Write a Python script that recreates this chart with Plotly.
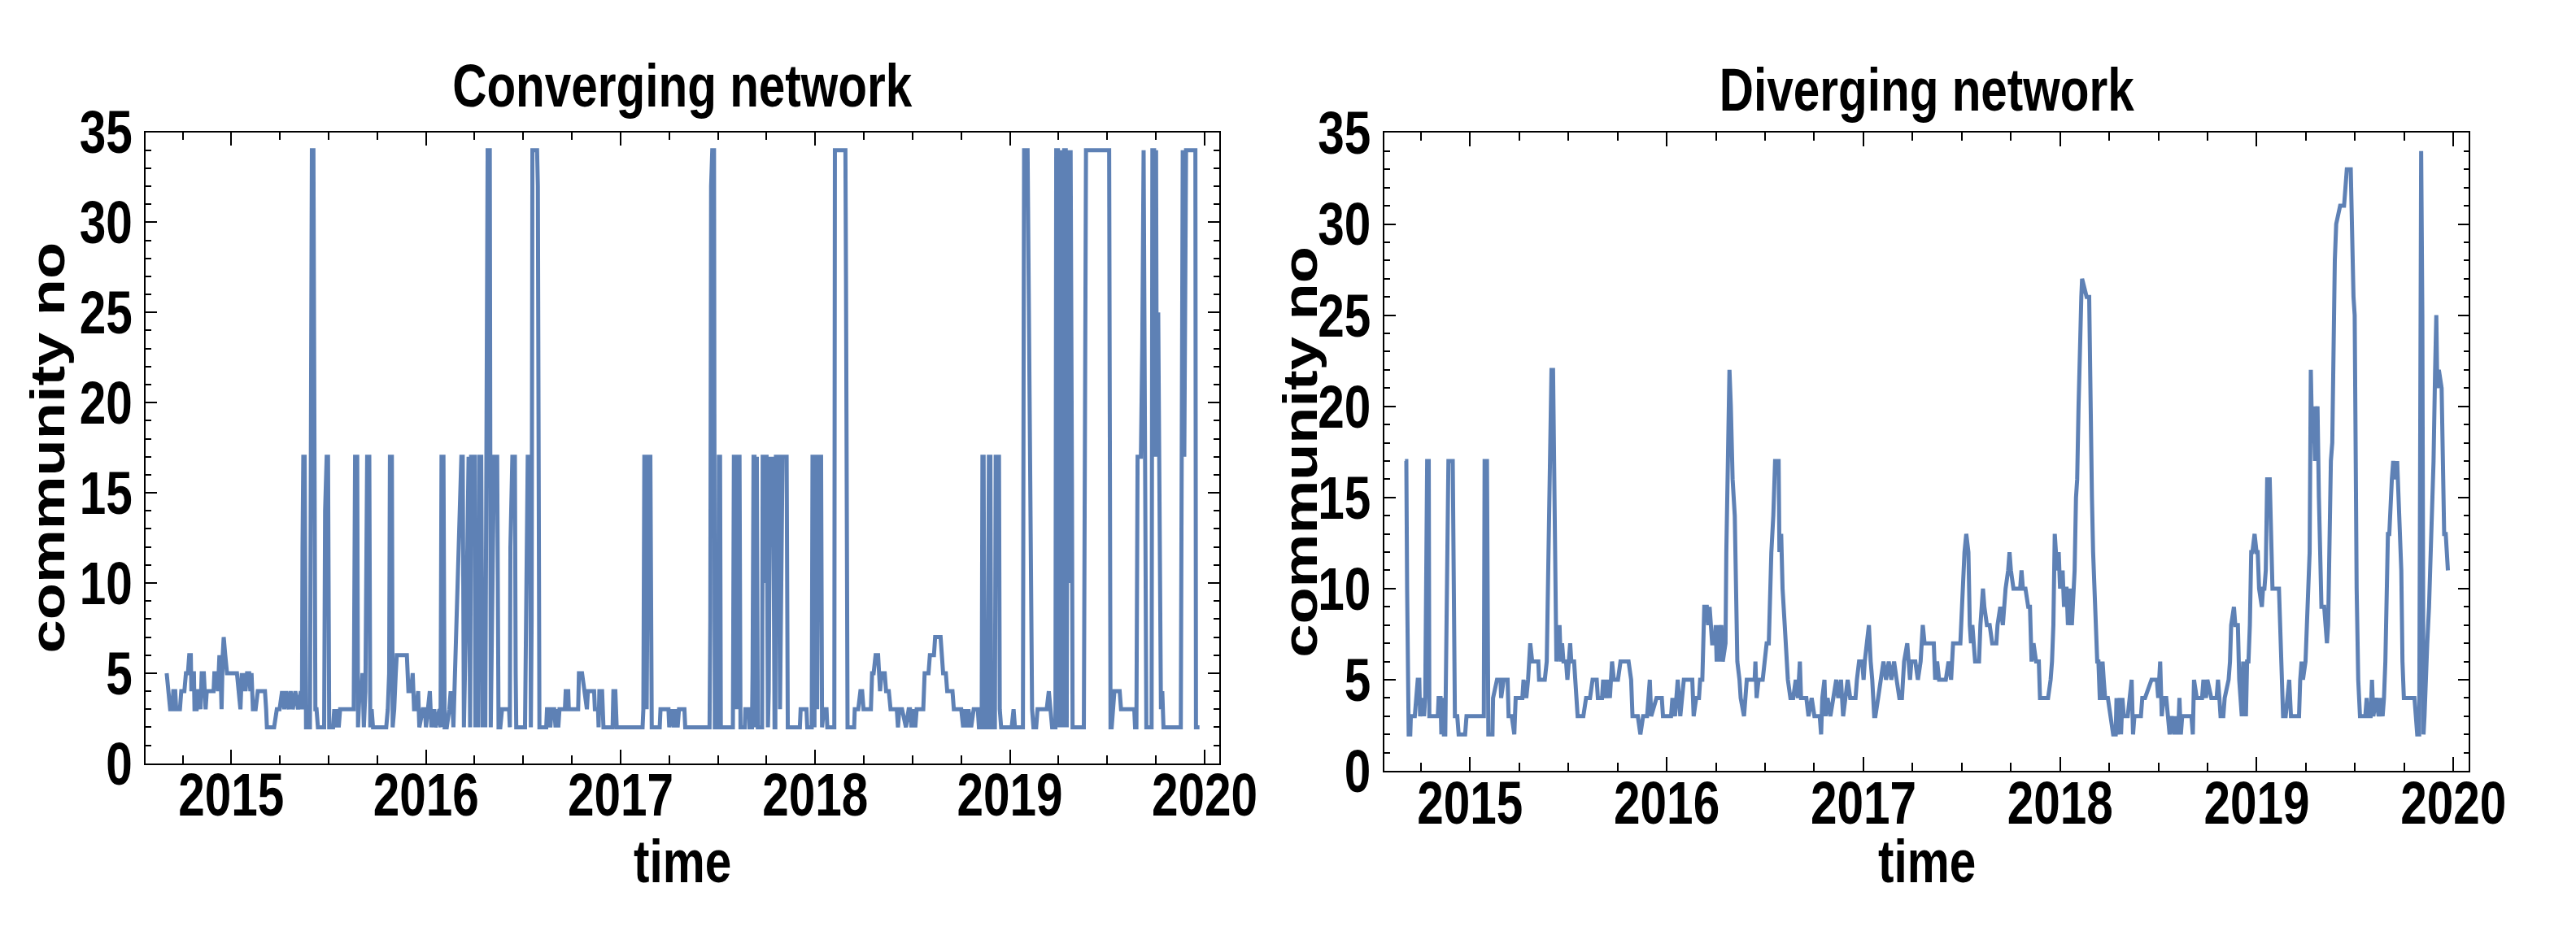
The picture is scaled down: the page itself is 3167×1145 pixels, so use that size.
import plotly.graph_objects as go

# ---------------- data (time in decimal years, community number) ----------------
converging = [
    (2014.668,5),(2014.677,4),(2014.686,3),(2014.697,3),(2014.702,4),(2014.712,4),(2014.717,3),(2014.736,3),
    (2014.743,4),(2014.759,4),(2014.767,5),(2014.777,5),(2014.784,6),(2014.792,6),(2014.795,4),(2014.802,5),
    (2014.808,5),(2014.811,3),(2014.822,3),(2014.829,4),(2014.838,4),(2014.842,3),(2014.848,5),(2014.859,5),
    (2014.863,4),(2014.868,3),(2014.874,4),(2014.886,4),(2014.909,4),(2014.913,5),(2014.927,5),(2014.931,4),
    (2014.939,6),(2014.945,5),(2014.950,3),(2014.956,6),(2014.961,7),(2014.969,6),(2014.978,5),(2015.029,5),
    (2015.040,4),(2015.047,3),(2015.054,5),(2015.059,4),(2015.068,5),(2015.073,4),(2015.081,5),(2015.092,5),
    (2015.098,4),(2015.104,5),(2015.111,3),(2015.125,3),(2015.136,4),(2015.152,4),(2015.173,4),(2015.179,3),
    (2015.183,2),(2015.207,2),(2015.220,2),(2015.234,3),(2015.248,3),(2015.261,4),(2015.272,3),(2015.282,4),
    (2015.295,3),(2015.305,4),(2015.316,3),(2015.329,4),(2015.343,3),(2015.357,4),(2015.363,3),(2015.366,12),
    (2015.370,17),(2015.377,17),(2015.381,4),(2015.384,2),(2015.404,2),(2015.408,17),(2015.414,34),(2015.422,34),
    (2015.426,12),(2015.432,3),(2015.438,3),(2015.445,2),(2015.477,2),(2015.482,14),(2015.490,17),(2015.497,17),
    (2015.503,2),(2015.523,2),(2015.529,3),(2015.537,2),(2015.545,3),(2015.552,2),(2015.559,3),(2015.568,3),
    (2015.629,3),(2015.636,17),(2015.647,17),(2015.651,2),(2015.659,4),(2015.668,4),(2015.674,5),(2015.681,2),
    (2015.689,4),(2015.698,17),(2015.709,17),(2015.714,2),(2015.721,3),(2015.728,2),(2015.796,2),(2015.804,3),
    (2015.811,5),(2015.815,17),(2015.825,17),(2015.829,2),(2015.837,3),(2015.845,5),(2015.850,6),(2015.902,6),
    (2015.905,5),(2015.910,4),(2015.923,4),(2015.932,5),(2015.939,3),(2015.950,3),(2015.960,4),(2015.966,2),
    (2015.984,3),(2015.995,3),(2016.000,2),(2016.020,4),(2016.028,2),(2016.043,3),(2016.050,2),(2016.069,3),
    (2016.075,2),(2016.080,17),(2016.090,17),(2016.096,2),(2016.107,2),(2016.120,3),(2016.127,4),(2016.137,3),
    (2016.141,2),(2016.182,17),(2016.189,17),(2016.195,2),(2016.213,12),(2016.219,17),(2016.227,2),(2016.232,17),
    (2016.250,17),(2016.254,2),(2016.264,10),(2016.268,2),(2016.273,17),(2016.284,17),(2016.291,2),(2016.300,10),
    (2016.305,2),(2016.311,17),(2016.317,34),(2016.328,34),(2016.333,2),(2016.350,17),(2016.366,17),(2016.373,2),
    (2016.382,2),(2016.391,3),(2016.427,3),(2016.431,2),(2016.434,12),(2016.444,17),(2016.457,17),(2016.461,5),
    (2016.464,2),(2016.509,2),(2016.516,12),(2016.523,17),(2016.536,17),(2016.539,2),(2016.543,8),(2016.547,34),
    (2016.571,34),(2016.575,32),(2016.579,17),(2016.583,2),(2016.618,2),(2016.622,3),(2016.632,3),(2016.639,2),
    (2016.646,3),(2016.659,3),(2016.666,2),(2016.673,3),(2016.680,2),(2016.686,3),(2016.714,3),(2016.718,4),
    (2016.731,4),(2016.734,3),(2016.782,3),(2016.786,5),(2016.802,5),(2016.816,4),(2016.827,3),(2016.832,4),
    (2016.864,4),(2016.868,3),(2016.884,3),(2016.887,2),(2016.891,4),(2016.905,4),(2016.912,2),(2016.959,2),
    (2016.963,4),(2016.973,4),(2016.980,2),(2017.113,2),(2017.117,3),(2017.122,17),(2017.130,17),(2017.134,3),
    (2017.142,17),(2017.153,17),(2017.157,3),(2017.160,2),(2017.201,2),(2017.205,3),(2017.246,3),(2017.250,2),
    (2017.259,3),(2017.273,2),(2017.280,3),(2017.293,2),(2017.300,3),(2017.328,3),(2017.332,2),(2017.457,2),
    (2017.461,8),(2017.465,32),(2017.471,34),(2017.480,34),(2017.484,2),(2017.501,2),(2017.505,17),(2017.511,17),
    (2017.515,2),(2017.577,2),(2017.582,17),(2017.590,17),(2017.595,3),(2017.600,17),(2017.611,17),(2017.616,2),
    (2017.638,2),(2017.641,3),(2017.659,3),(2017.662,2),(2017.675,2),(2017.678,5),(2017.683,17),(2017.688,17),
    (2017.692,2),(2017.696,17),(2017.700,17),(2017.705,2),(2017.727,2),(2017.730,17),(2017.737,17),(2017.740,10),
    (2017.744,17),(2017.750,17),(2017.754,3),(2017.757,2),(2017.761,4),(2017.768,17),(2017.775,12),(2017.779,17),
    (2017.784,17),(2017.791,2),(2017.795,2),(2017.798,17),(2017.812,17),(2017.819,3),(2017.825,9),(2017.832,17),
    (2017.853,17),(2017.859,2),(2017.921,2),(2017.925,3),(2017.955,3),(2017.959,2),(2017.982,2),(2017.986,17),
    (2017.992,17),(2017.996,2),(2018.000,17),(2018.006,17),(2018.010,3),(2018.016,17),(2018.030,17),(2018.035,2),
    (2018.044,3),(2018.058,3),(2018.062,2),(2018.098,2),(2018.101,34),(2018.155,34),(2018.158,27),(2018.164,10),
    (2018.166,2),(2018.200,2),(2018.203,3),(2018.221,3),(2018.232,4),(2018.241,4),(2018.248,3),(2018.286,3),
    (2018.292,5),(2018.300,5),(2018.310,6),(2018.323,6),(2018.327,5),(2018.333,4),(2018.341,5),(2018.357,5),
    (2018.364,4),(2018.378,4),(2018.387,3),(2018.419,3),(2018.425,2),(2018.432,3),(2018.446,3),(2018.466,2),
    (2018.480,3),(2018.487,3),(2018.494,2),(2018.507,3),(2018.514,2),(2018.521,3),(2018.555,3),(2018.562,5),
    (2018.582,5),(2018.589,6),(2018.610,6),(2018.616,7),(2018.644,7),(2018.651,6),(2018.657,5),(2018.671,5),
    (2018.678,4),(2018.705,4),(2018.712,3),(2018.750,3),(2018.760,2),(2018.771,3),(2018.780,2),(2018.787,3),
    (2018.801,2),(2018.814,3),(2018.835,3),(2018.841,2),(2018.855,2),(2018.859,17),(2018.865,17),(2018.869,2),
    (2018.886,2),(2018.892,17),(2018.900,17),(2018.904,2),(2018.923,2),(2018.927,17),(2018.944,17),(2018.948,3),
    (2018.955,2),(2019.009,2),(2019.019,3),(2019.026,2),(2019.067,2),(2019.071,25),(2019.073,34),(2019.091,34),
    (2019.097,25),(2019.101,17),(2019.107,10),(2019.114,3),(2019.121,2),(2019.135,2),(2019.142,3),(2019.189,3),
    (2019.200,4),(2019.210,3),(2019.217,2),(2019.234,2),(2019.238,34),(2019.247,34),(2019.251,10),(2019.255,2),
    (2019.260,34),(2019.267,2),(2019.271,34),(2019.275,2),(2019.279,34),(2019.287,34),(2019.292,2),(2019.298,34),
    (2019.305,10),(2019.312,34),(2019.319,15),(2019.322,2),(2019.380,2),(2019.387,26),(2019.391,34),(2019.510,34),
    (2019.514,17),(2019.517,2),(2019.523,2),(2019.528,3),(2019.537,4),(2019.564,4),(2019.571,3),(2019.639,3),
    (2019.643,2),(2019.650,2),(2019.656,17),(2019.673,17),(2019.680,23),(2019.687,34),(2019.694,22),(2019.698,10),
    (2019.701,2),(2019.728,2),(2019.732,34),(2019.741,34),(2019.745,17),(2019.751,34),(2019.755,17),(2019.762,25),
    (2019.769,8),(2019.776,3),(2019.783,4),(2019.789,2),(2019.878,2),(2019.882,22),(2019.888,34),(2019.896,17),
    (2019.905,34),(2019.953,34),(2019.956,2),(2019.974,2),
]

diverging = [
    (2014.669,17),(2014.676,17),(2014.680,10),(2014.685,5),(2014.688,2),(2014.696,2),(2014.699,3),(2014.719,3),
    (2014.726,4),(2014.734,5),(2014.742,5),(2014.746,3),(2014.759,4),(2014.766,3),(2014.772,4),(2014.777,13),
    (2014.782,17),(2014.790,17),(2014.793,3),(2014.836,3),(2014.840,4),(2014.850,4),(2014.854,2),(2014.861,4),
    (2014.867,2),(2014.874,2),(2014.882,8),(2014.890,17),(2014.912,17),(2014.917,10),(2014.923,3),(2014.935,3),
    (2014.942,2),(2014.975,2),(2014.982,3),(2015.070,3),(2015.074,17),(2015.086,17),(2015.093,2),(2015.114,2),
    (2015.117,4),(2015.137,5),(2015.155,5),(2015.158,4),(2015.171,5),(2015.191,5),(2015.196,3),(2015.212,3),
    (2015.225,2),(2015.232,4),(2015.239,4),(2015.266,4),(2015.272,5),(2015.286,4),(2015.295,5),(2015.306,7),
    (2015.316,6),(2015.347,6),(2015.351,5),(2015.380,5),(2015.390,6),(2015.401,14),(2015.407,18),(2015.414,22),
    (2015.422,22),(2015.428,14),(2015.434,10),(2015.439,6),(2015.455,8),(2015.461,6),(2015.468,7),(2015.475,6),
    (2015.488,6),(2015.495,5),(2015.509,7),(2015.515,6),(2015.529,6),(2015.536,5),(2015.547,3),(2015.576,3),
    (2015.590,4),(2015.610,4),(2015.623,5),(2015.644,5),(2015.650,4),(2015.671,4),(2015.677,5),(2015.691,4),
    (2015.698,5),(2015.711,4),(2015.722,6),(2015.731,5),(2015.752,5),(2015.765,6),(2015.806,6),(2015.819,5),
    (2015.826,3),(2015.853,3),(2015.866,2),(2015.880,3),(2015.900,3),(2015.914,5),(2015.921,3),(2015.948,4),
    (2015.975,4),(2015.981,3),(2016.022,3),(2016.029,4),(2016.042,3),(2016.056,5),(2016.069,3),(2016.087,5),
    (2016.130,5),(2016.137,3),(2016.150,4),(2016.164,4),(2016.170,5),(2016.181,5),(2016.191,9),(2016.204,9),
    (2016.211,8),(2016.218,9),(2016.227,8),(2016.231,7),(2016.245,7),(2016.249,8),(2016.254,6),(2016.258,8),
    (2016.265,6),(2016.278,8),(2016.285,6),(2016.299,7),(2016.303,12),(2016.312,17),(2016.319,22),(2016.326,20),
    (2016.330,18),(2016.335,16),(2016.346,14),(2016.353,10),(2016.359,6),(2016.370,5),(2016.376,4),(2016.393,3),
    (2016.407,5),(2016.447,5),(2016.451,6),(2016.457,4),(2016.467,5),(2016.488,5),(2016.497,6),(2016.508,7),
    (2016.519,7),(2016.524,9),(2016.532,12),(2016.542,14),(2016.551,17),(2016.569,17),(2016.573,12),(2016.582,13),
    (2016.589,10),(2016.600,8),(2016.609,6),(2016.616,5),(2016.629,4),(2016.643,4),(2016.656,5),(2016.667,4),
    (2016.677,6),(2016.683,4),(2016.710,4),(2016.721,3),(2016.737,4),(2016.751,3),(2016.778,3),(2016.785,2),
    (2016.791,4),(2016.802,5),(2016.808,3),(2016.818,4),(2016.832,3),(2016.845,4),(2016.862,5),(2016.872,4),
    (2016.886,5),(2016.897,3),(2016.906,4),(2016.920,5),(2016.933,4),(2016.960,4),(2016.967,5),(2016.978,6),
    (2016.994,6),(2017.001,5),(2017.007,6),(2017.018,7),(2017.028,8),(2017.037,6),(2017.045,5),(2017.055,3),
    (2017.061,3),(2017.075,4),(2017.088,5),(2017.102,6),(2017.115,5),(2017.129,6),(2017.142,5),(2017.156,6),
    (2017.169,5),(2017.183,4),(2017.196,4),(2017.207,6),(2017.223,7),(2017.237,5),(2017.244,6),(2017.264,6),
    (2017.277,5),(2017.291,6),(2017.302,8),(2017.311,7),(2017.358,7),(2017.365,5),(2017.375,6),(2017.385,5),
    (2017.419,5),(2017.433,6),(2017.446,5),(2017.456,7),(2017.493,7),(2017.500,9),(2017.507,10),(2017.514,12),
    (2017.523,13),(2017.534,12),(2017.541,8),(2017.547,7),(2017.554,8),(2017.561,7),(2017.568,6),(2017.588,6),
    (2017.595,8),(2017.608,10),(2017.615,9),(2017.628,8),(2017.642,8),(2017.655,7),(2017.676,7),(2017.682,8),
    (2017.696,9),(2017.709,8),(2017.716,9),(2017.723,10),(2017.736,11),(2017.743,12),(2017.750,11),(2017.763,10),
    (2017.797,10),(2017.804,11),(2017.811,10),(2017.824,10),(2017.838,9),(2017.847,9),(2017.855,6),(2017.865,7),
    (2017.878,6),(2017.892,6),(2017.898,4),(2017.939,4),(2017.952,5),(2017.959,6),(2017.966,8),(2017.973,13),
    (2017.979,12),(2017.986,11),(2017.993,12),(2018.000,10),(2018.013,11),(2018.020,9),(2018.027,10),(2018.033,10),
    (2018.040,8),(2018.050,10),(2018.060,8),(2018.067,10),(2018.074,11),(2018.081,15),(2018.087,16),(2018.094,20),
    (2018.101,24),(2018.108,26),(2018.112,27),(2018.135,26),(2018.148,26),(2018.155,18),(2018.162,15),(2018.168,12),
    (2018.175,10),(2018.182,8),(2018.189,6),(2018.195,6),(2018.202,4),(2018.209,4),(2018.216,6),(2018.222,5),
    (2018.229,4),(2018.243,4),(2018.256,3),(2018.270,2),(2018.283,2),(2018.287,4),(2018.293,2),(2018.303,4),
    (2018.310,2),(2018.317,4),(2018.324,3),(2018.344,3),(2018.364,5),(2018.371,2),(2018.378,3),(2018.411,3),
    (2018.418,4),(2018.432,4),(2018.465,5),(2018.492,5),(2018.499,4),(2018.509,6),(2018.517,3),(2018.526,4),
    (2018.540,4),(2018.546,3),(2018.557,2),(2018.567,3),(2018.580,2),(2018.587,3),(2018.600,2),(2018.607,4),
    (2018.614,2),(2018.621,3),(2018.668,3),(2018.675,2),(2018.681,5),(2018.695,4),(2018.722,4),(2018.729,5),
    (2018.742,4),(2018.749,5),(2018.769,4),(2018.796,4),(2018.803,5),(2018.810,4),(2018.816,3),(2018.830,3),
    (2018.837,4),(2018.857,5),(2018.864,6),(2018.870,8),(2018.884,9),(2018.891,8),(2018.904,8),(2018.911,5),
    (2018.918,4),(2018.924,3),(2018.931,6),(2018.938,4),(2018.945,3),(2018.951,6),(2018.958,6),(2018.965,8),
    (2018.972,12),(2018.978,12),(2018.989,13),(2018.999,12),(2019.005,12),(2019.012,10),(2019.026,9),(2019.032,10),
    (2019.039,10),(2019.046,11),(2019.053,16),(2019.066,16),(2019.073,12),(2019.080,10),(2019.113,10),(2019.120,7),
    (2019.127,4),(2019.134,3),(2019.147,3),(2019.154,4),(2019.165,5),(2019.174,3),(2019.188,3),(2019.215,3),
    (2019.221,5),(2019.228,6),(2019.235,5),(2019.248,6),(2019.255,8),(2019.269,12),(2019.275,22),(2019.282,18),
    (2019.289,20),(2019.296,17),(2019.302,19),(2019.309,20),(2019.316,15),(2019.329,9),(2019.343,9),(2019.350,8),
    (2019.357,7),(2019.363,8),(2019.370,14),(2019.377,17),(2019.384,18),(2019.390,25),(2019.397,28),(2019.404,30),
    (2019.424,31),(2019.444,31),(2019.451,32),(2019.458,33),(2019.478,33),(2019.485,28),(2019.492,26),(2019.498,25),
    (2019.502,15),(2019.508,10),(2019.516,5),(2019.525,3),(2019.539,3),(2019.552,3),(2019.559,4),(2019.566,3),
    (2019.579,3),(2019.586,5),(2019.593,3),(2019.606,4),(2019.620,3),(2019.627,4),(2019.640,3),(2019.647,4),
    (2019.654,6),(2019.660,10),(2019.667,13),(2019.674,13),(2019.681,15),(2019.687,16),(2019.694,17),(2019.701,16),
    (2019.714,17),(2019.721,15),(2019.728,14),(2019.735,11),(2019.741,6),(2019.748,4),(2019.802,4),(2019.809,3),
    (2019.816,2),(2019.826,2),(2019.832,30),(2019.836,34),(2019.842,25),(2019.848,2),(2019.853,3),(2019.860,6),
    (2019.867,7),(2019.876,9),(2019.890,13),(2019.899,17),(2019.907,22),(2019.913,25),(2019.918,21),(2019.926,22),
    (2019.940,21),(2019.946,16),(2019.953,13),(2019.961,13),(2019.967,11),(2019.972,11),
]

conv_time = [p[0] for p in converging]
conv_count = [p[1] for p in converging]
div_time = [p[0] for p in diverging]
div_count = [p[1] for p in diverging]

titles = ["Converging network", "Diverging network"]
x_title = "time"
y_title = "community no"
year_ticks = [2015, 2016, 2017, 2018, 2019, 2020]

# ---------------- figure ----------------
W, H = 3167, 1145
LINE = "#5E81B5"
FONT = "Liberation Sans, Arial, sans-serif"
FS = 74          # text is drawn tall and then squeezed horizontally (narrow look of the original)
SQUEEZE = 0.79

# plot frames in pixels (left, right, top, bottom)
frames = [(183, 1530, 131, 968), (1737, 3098, 132, 978)]
xranges = [[2014.561, 2020.076], [2014.564, 2020.079]]

fig = go.Figure()
fig.add_trace(go.Scatter(x=conv_time, y=conv_count, mode="lines",
                         line=dict(color=LINE, width=5), xaxis="x", yaxis="y",
                         showlegend=False))
fig.add_trace(go.Scatter(x=div_time, y=div_count, mode="lines",
                         line=dict(color=LINE, width=5), xaxis="x2", yaxis="y2",
                         showlegend=False))

tickfont = dict(family=FONT, size=FS, color="black", weight="bold")

def xaxis(i):
    return dict(domain=[frames[i][0] / W, frames[i][1] / W], range=xranges[i],
                anchor="y" if i == 0 else "y2",
                showline=True, linecolor="black", linewidth=1.5, mirror="allticks",
                ticks="inside", ticklen=17, tickwidth=1.5, tickcolor="black",
                tickmode="array", tickvals=year_ticks, ticktext=[str(v) for v in year_ticks],
                minor=dict(dtick=0.25, tick0=2015, ticks="inside", ticklen=10,
                           tickwidth=1.5, tickcolor="black", showgrid=False),
                showgrid=False, zeroline=False, tickfont=tickfont, ticklabelstandoff=-26)

def yaxis(i):
    l, r, t, b = frames[i]
    return dict(domain=[1 - b / H, 1 - t / H], range=[0, 35], anchor="x" if i == 0 else "x2",
                showline=True, linecolor="black", linewidth=1.5, mirror="allticks",
                ticks="inside", ticklen=14, tickwidth=1.5, tickcolor="black",
                tickmode="linear", tick0=0, dtick=5,
                minor=dict(dtick=1, tick0=0, ticks="inside", ticklen=7,
                           tickwidth=1.5, tickcolor="black", showgrid=False),
                showgrid=False, zeroline=False, tickfont=tickfont, ticklabelstandoff=0)

annotations = []
for i in range(2):
    l, r, t, b = frames[i]
    cx = (l + r) / 2 / W
    annotations.append(dict(text=titles[i], x=cx, y=1 - (70 if i == 0 else 75) / H,
                            xref="paper", yref="paper", showarrow=False,
                            xanchor="center", yanchor="middle",
                            font=dict(family=FONT, size=FS, color="black", weight="bold")))
    annotations.append(dict(text=x_title, x=cx, y=1 - 1098 / H,
                            xref="paper", yref="paper", showarrow=False,
                            xanchor="center", yanchor="middle",
                            font=dict(family=FONT, size=FS, color="black", weight="bold")))
    yx = 60 if i == 0 else 1632
    annotations.append(dict(text=y_title, x=yx / W, y=1 - ((t + b) / 2) / H,
                            xref="paper", yref="paper", showarrow=False, textangle=-90,
                            xanchor="center", yanchor="middle",
                            font=dict(family=FONT, size=FS, color="black", weight="bold")))

fig.update_layout(width=W, height=H, margin=dict(l=0, r=0, t=0, b=0),
                  paper_bgcolor="white", plot_bgcolor="white",
                  xaxis=xaxis(0), yaxis=yaxis(0), xaxis2=xaxis(1), yaxis2=yaxis(1),
                  annotations=annotations, showlegend=False)

# narrow the lettering horizontally (the original uses tall, condensed bold text);
# re-applied whenever plotly redraws a label
squeeze_js = """
(function(){
  var S = %s;
  var SEL = 'g.xtick text, g.x2tick text, g.ytick text, g.y2tick text, text.annotation-text';
  function angleOf(g){
    if (!g) return 0;
    var m = /rotate\\(\\s*([-0-9.eE]+)/.exec(g.getAttribute('transform') || '');
    return m ? parseFloat(m[1]) : 0;
  }
  function fix(t){
    var cur = t.getAttribute('transform') || '';
    var key = (t.getAttribute('x') || '0') + ',' + (t.getAttribute('y') || '0') + ',' + t.textContent;
    var base;
    if (t.getAttribute('data-sq') === cur) {
      if (t.getAttribute('data-key') === key) return;
      base = t.getAttribute('data-base') || '';
    } else {
      base = cur;
    }
    var ang = angleOf(t.closest('g.annotation-text-g'));
    var rotated = Math.abs(Math.abs(ang) - 90) < 1;
    var add;
    if (rotated) {
      var bb = t.getBBox();
      var cy = bb.y + bb.height / 2;
      add = ' translate(0,' + cy + ') scale(1,' + S + ') translate(0,' + (-cy) + ')';
    } else {
      var x = parseFloat(t.getAttribute('x') || '0');
      add = ' translate(' + x + ',0) scale(' + S + ',1) translate(' + (-x) + ',0)';
    }
    var nt = (base + add).trim();
    t.setAttribute('data-base', base);
    t.setAttribute('data-key', key);
    t.setAttribute('data-sq', nt);
    t.setAttribute('transform', nt);
  }
  function applyAll(){ document.querySelectorAll(SEL).forEach(fix); }
  applyAll();
  var obs = new MutationObserver(function(){ applyAll(); });
  obs.observe(document.body, {subtree: true, childList: true, characterData: true,
                              attributes: true, attributeFilter: ['transform', 'x', 'y']});
  setTimeout(applyAll, 50);
  setTimeout(applyAll, 300);
  setTimeout(applyAll, 1000);
})();
""" % SQUEEZE

fig.write_html("out.html", post_script=squeeze_js)
